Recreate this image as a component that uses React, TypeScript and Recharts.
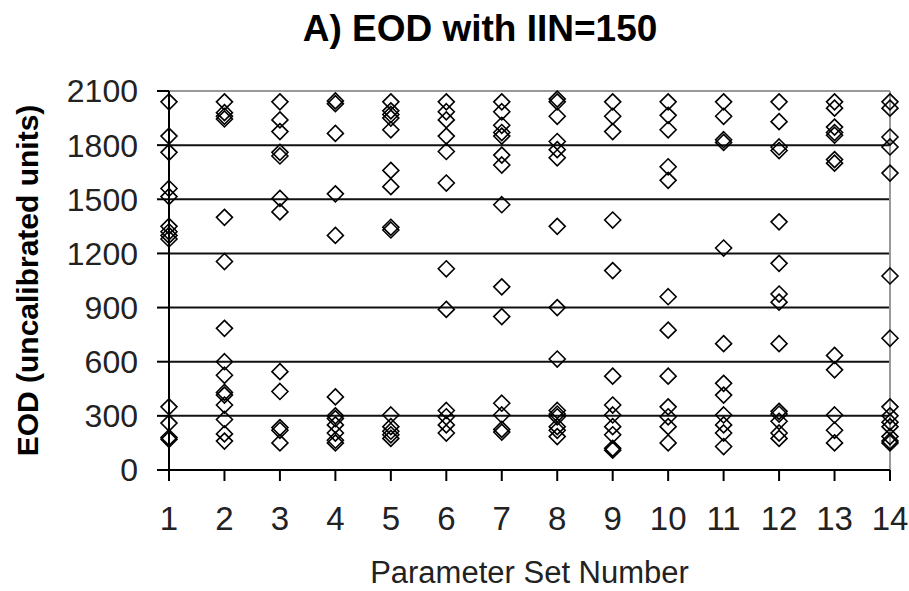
import React from "react";
import {
  CartesianGrid,
  Label,
  ReferenceLine,
  Scatter,
  ScatterChart,
  XAxis,
  YAxis
} from "recharts";

const FONT = "Arial, 'Liberation Sans', sans-serif";

const SETS = [1, 2, 3, 4, 5, 6, 7, 8, 9, 10, 11, 12, 13, 14];
const Y_TICKS = [0, 300, 600, 900, 1200, 1500, 1800, 2100];
const GRID_VALUES = [300, 600, 900, 1200, 1500, 1800];

// EOD values read per parameter set
const EOD_1 = [2040, 1850, 1760, 1560, 1515, 1350, 1320, 1300, 1280, 350, 260, 180, 170];
const EOD_2 = [2040, 1980, 1960, 1945, 1400, 1155, 785, 600, 525, 430, 415, 360, 280, 200, 160];
const EOD_3 = [2040, 1940, 1875, 1760, 1740, 1505, 1430, 545, 435, 235, 220, 150];
const EOD_4 = [2045, 2030, 1865, 1530, 1300, 405, 300, 285, 250, 205, 165, 150];
const EOD_5 = [2040, 1990, 1970, 1950, 1885, 1660, 1570, 1345, 1330, 305, 240, 215, 195, 175];
const EOD_6 = [2040, 1985, 1940, 1850, 1765, 1590, 1115, 890, 330, 295, 250, 205];
const EOD_7 = [2040, 1985, 1910, 1870, 1850, 1745, 1690, 1470, 1015, 850, 370, 305, 225, 210];
const EOD_8 = [2055, 2040, 1960, 1820, 1775, 1730, 1350, 900, 615, 330, 310, 295, 240, 220, 185];
const EOD_9 = [2040, 1960, 1875, 1385, 1105, 520, 360, 305, 240, 195, 120, 110];
const EOD_10 = [2040, 1965, 1885, 1680, 1605, 960, 775, 520, 350, 295, 240, 150];
const EOD_11 = [2040, 1960, 1830, 1815, 1230, 700, 480, 415, 305, 250, 205, 130];
const EOD_12 = [2040, 1930, 1790, 1770, 1375, 1145, 975, 930, 700, 325, 310, 270, 205, 175];
const EOD_13 = [2040, 2005, 1900, 1870, 1855, 1720, 1700, 635, 555, 305, 220, 150];
const EOD_14 = [2040, 2005, 1845, 1790, 1645, 1075, 730, 350, 300, 265, 240, 185, 160, 150];

const EOD = [EOD_1, EOD_2, EOD_3, EOD_4, EOD_5, EOD_6, EOD_7, EOD_8, EOD_9, EOD_10, EOD_11, EOD_12, EOD_13, EOD_14];

const data = EOD.flatMap((vals, i) => vals.map((v) => ({ set: SETS[i], eod: v })));

const Diamond = (props: any) => {
  const { cx, cy } = props;
  const r = 8;
  return (
    <path
      d={`M${cx},${cy - r}L${cx + r},${cy}L${cx},${cy + r}L${cx - r},${cy}Z`}
      fill="none"
      stroke="#000"
      strokeWidth={1.6}
    />
  );
};

export default function App() {
  return (
    <div style={{ position: "absolute", left: 0, top: 0, width: 909, height: 591, background: "#fff" }}>
      <div
        style={{
          position: "absolute",
          top: 8,
          left: 0,
          width: 960,
          textAlign: "center",
          fontFamily: FONT,
          fontWeight: "bold",
          fontSize: 37,
          color: "#000"
        }}
      >
        A) EOD with IIN=150
      </div>
      <ScatterChart width={909} height={591} margin={{ top: 91, right: 19, left: 0, bottom: 0 }}>
        <CartesianGrid
          vertical={false}
          horizontalValues={GRID_VALUES}
          stroke="#111"
          strokeWidth={2}
          strokeDasharray=""
        />
        <ReferenceLine y={2100} stroke="#999" strokeWidth={2} />
        <ReferenceLine x={14} stroke="#999" strokeWidth={2} />
        <XAxis
          type="number"
          dataKey="set"
          domain={[1, 14]}
          ticks={SETS}
          interval={0}
          height={121}
          tickSize={11}
          tickMargin={26}
          axisLine={{ stroke: "#000", strokeWidth: 2 }}
          tickLine={{ stroke: "#000", strokeWidth: 2 }}
          tick={{ fill: "#222", fontSize: 33, fontFamily: FONT }}
        >
          <Label
            value="Parameter Set Number"
            position="insideBottom"
            offset={8}
            style={{ fill: "#222", fontSize: 31, fontFamily: FONT }}
          />
        </XAxis>
        <YAxis
          type="number"
          dataKey="eod"
          domain={[0, 2100]}
          ticks={Y_TICKS}
          interval={0}
          width={169}
          tickSize={12}
          tickMargin={19}
          axisLine={{ stroke: "#000", strokeWidth: 2 }}
          tickLine={{ stroke: "#000", strokeWidth: 2 }}
          tick={{ fill: "#222", fontSize: 32, fontFamily: FONT }}
        >
          <Label
            value="EOD (uncalibrated units)"
            angle={-90}
            position="center"
            dx={-57}
            style={{ fill: "#000", fontSize: 30, fontWeight: "bold", fontFamily: FONT, textAnchor: "middle" }}
          />
        </YAxis>
        <Scatter data={data} shape={Diamond} isAnimationActive={false} />
      </ScatterChart>
    </div>
  );
}
